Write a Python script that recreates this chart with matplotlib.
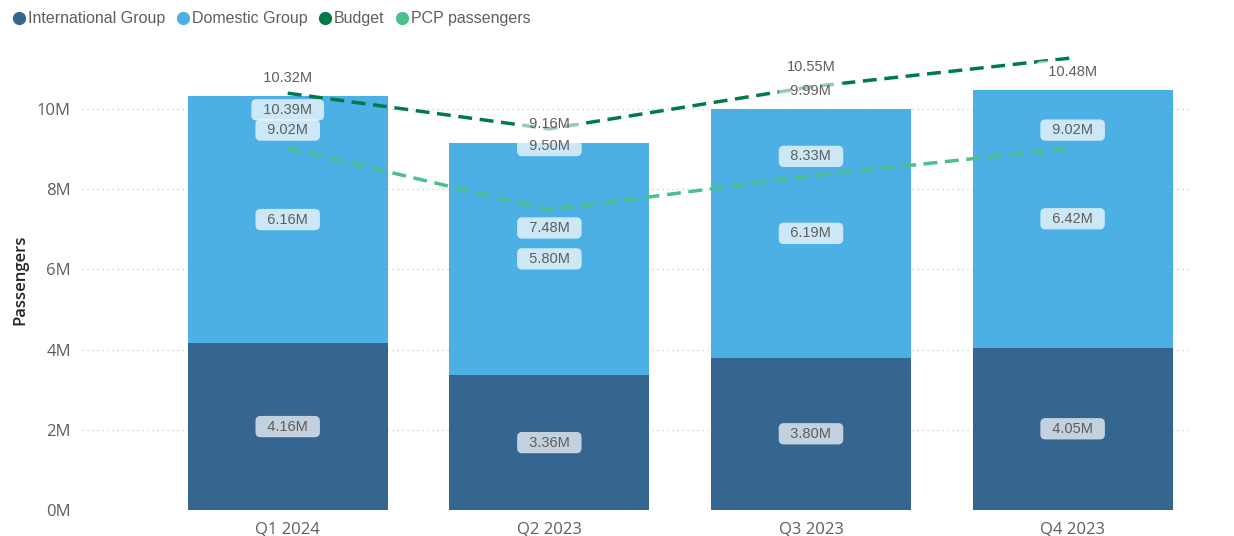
import matplotlib.pyplot as plt
from matplotlib.lines import Line2D

# data (millions of passengers)
quarters = ['Q1 2024', 'Q2 2023', 'Q3 2023', 'Q4 2023']
international = [4.16, 3.36, 3.80, 4.05]
domestic = [6.16, 5.80, 6.19, 6.42]
totals = [10.32, 9.16, 9.99, 10.48]
budget = [10.39, 9.50, 10.55, 11.27]
pcp = [9.02, 7.48, 8.33, 9.02]

c_int = '#356690'
c_dom = '#4CB0E4'
c_bud = '#017A4A'
c_pcp = '#4CBF8C'
txt = '#605E5C'

plt.rcParams['font.family'] = ['Liberation Sans', 'DejaVu Sans']

fig = plt.figure(figsize=(12.34, 5.36), dpi=100)
ax = fig.add_axes([0.0665, 0.0485, 0.8975, 0.8585])

xs = range(len(quarters))
ax.bar(xs, international, width=0.765, color=c_int, zorder=2)
ax.bar(xs, domestic, width=0.765, bottom=international, color=c_dom, zorder=2)
ax.plot(xs, pcp, '--', color=c_pcp, lw=2.5, dashes=(4, 2.2), zorder=3)
ax.plot(xs, budget, '--', color=c_bud, lw=2.5, dashes=(4, 2.2), zorder=3)


def label(x, y, s, dy, face=None, alpha=0.75):
    box = None
    if face is not None:
        box = dict(boxstyle='round,pad=0.25,rounding_size=0.35', fc=face, ec='none', alpha=alpha)
        s = '  ' + s + '  '
    ax.annotate(s, (x, y), xytext=(0, dy), textcoords='offset points',
                ha='center', va='center', fontsize=10.5, color=txt, bbox=box, zorder=5)


for i in xs:
    label(i, international[i] / 2, f'{international[i]:.2f}M', 0, 'white', 0.7)
    label(i, international[i] + domestic[i] / 2, f'{domestic[i]:.2f}M', 0, 'white', 0.72)
    label(i, totals[i], f'{totals[i]:.2f}M', 13, 'white', 0.6)

# budget labels (Q4 has none in the reference)
label(0, budget[0], f'{budget[0]:.2f}M', -12, 'white', 0.72)
label(1, budget[1], f'{budget[1]:.2f}M', -12, 'white', 0.72)
label(2, budget[2], f'{budget[2]:.2f}M', 14)

pcp_dy = [13, -13, 14, 13]
for i in xs:
    label(i, pcp[i], f'{pcp[i]:.2f}M', pcp_dy[i], 'white', 0.72)

ax.set_xlim(-0.786, 3.447)
ax.set_ylim(0, 11.47)
ax.set_yticks([0, 2, 4, 6, 8, 10])
ax.set_yticklabels([f'{v}M' for v in [0, 2, 4, 6, 8, 10]])
ax.set_xticks(list(xs))
ax.set_xticklabels(quarters)
ax.tick_params(length=0, labelsize=12, labelcolor=txt, pad=8)
for t in ax.get_xticklabels() + ax.get_yticklabels():
    t.set_family(['Open Sans', 'DejaVu Sans'])
ax.grid(axis='y', color='#C8C6C4', linestyle=(0, (1, 3)), lw=0.9, zorder=0)
for s in ax.spines.values():
    s.set_visible(False)
ax.set_ylabel('Passengers', fontsize=12, color='#252423', fontweight='semibold',
              family=['Open Sans', 'DejaVu Sans'], labelpad=6)

handles = [Line2D([], [], marker='o', ls='none', color=c, markersize=8.5)
           for c in [c_int, c_dom, c_bud, c_pcp]]
fig.legend(handles, ['International Group', 'Domestic Group', 'Budget', 'PCP passengers'],
           loc='upper left', bbox_to_anchor=(0.0, 1.0), ncol=4, frameon=False,
           fontsize=11.5, labelcolor=txt, handletextpad=0.05, columnspacing=0.6,
           handlelength=1.0, borderaxespad=0.3)

fig.savefig('out.png', dpi=100)
